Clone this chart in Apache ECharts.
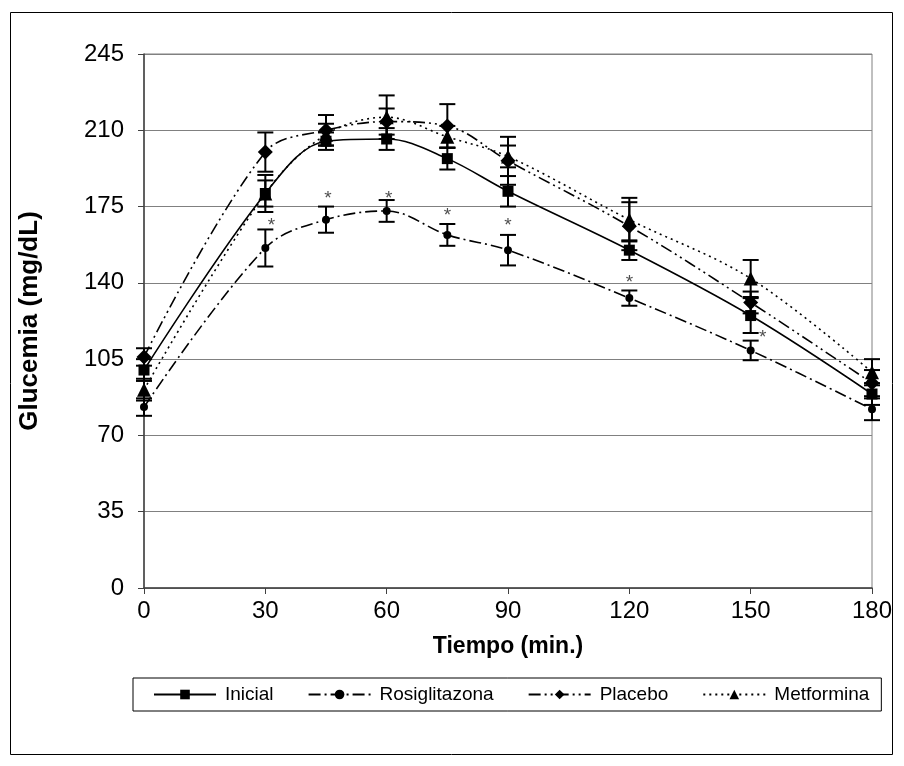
<!DOCTYPE html>
<html>
<head>
<meta charset="utf-8">
<script src="https://cdn.jsdelivr.net/npm/echarts@6/dist/echarts.min.js"></script>
<style>html,body{margin:0;padding:0;background:#fff;}#c{width:904px;height:766px;}</style>
</head>
<body>
<div id="c"></div>
<script>
var times = [0, 30, 45, 60, 75, 90, 120, 150, 180];
var yTicks = [0, 35, 70, 105, 140, 175, 210, 245];
var inicial = [100, 181, 205, 206, 197, 182, 155, 125, 89];
var inicialErr = [5, 8.5, 4, 5, 5, 7, 4.5, 8, 5];
var rosiglitazona = [83, 156, 169, 173, 162, 155, 133, 109, 82];
var rosiglitazonaErr = [4, 8.5, 6, 5, 5, 7, 3.5, 4.5, 5];
var placebo = [106, 200, 210, 214, 212, 196, 166, 131, 94];
var placeboErr = [4, 9, 7, 6, 10, 11, 11, 5, 6];
var metformina = [91, 181, 208, 216, 207, 198, 169, 142, 99];
var metforminaErr = [5, 6, 5, 10, 5, 5, 10, 8.5, 6];
var asteriskX = [31.5, 45.5, 60.5, 75, 90, 120, 153];
var asteriskY = [168, 180.5, 180.5, 172.5, 168, 142, 116.5];

var FONT = '"Liberation Sans", Arial, sans-serif';

function pts(vals) { return times.map(function (t, i) { return [t, vals[i]]; }); }
function errs(vals, e) { return times.map(function (t, i) { return [t, vals[i] - e[i], vals[i] + e[i]]; }); }

function errSeries(vals, e) {
  return {
    type: 'custom',
    data: errs(vals, e),
    encode: { x: 0, y: [1, 2] },
    z: 3,
    silent: true,
    renderItem: function (params, api) {
      var x = api.value(0);
      var p1 = api.coord([x, api.value(2)]);
      var p2 = api.coord([x, api.value(1)]);
      var w = 8;
      var st = { stroke: '#000', lineWidth: 2 };
      return {
        type: 'group',
        children: [
          { type: 'line', shape: { x1: p1[0], y1: p1[1], x2: p2[0], y2: p2[1] }, style: st },
          { type: 'line', shape: { x1: p1[0] - w, y1: p1[1], x2: p1[0] + w, y2: p1[1] }, style: st },
          { type: 'line', shape: { x1: p2[0] - w, y1: p2[1], x2: p2[0] + w, y2: p2[1] }, style: st }
        ]
      };
    }
  };
}

function lineSeries(name, vals, symbol, size, dash) {
  return {
    name: name,
    type: 'line',
    data: pts(vals),
    smooth: 0.35,
    symbol: symbol,
    symbolSize: size,
    z: 4,
    itemStyle: { color: '#000' },
    lineStyle: { color: '#000', width: 1.6, type: dash },
    emphasis: { disabled: true }
  };
}

var chart = echarts.init(document.getElementById('c'), null, { renderer: 'canvas' });
chart.setOption({
  animation: false,
  backgroundColor: '#fff',
  textStyle: { fontFamily: FONT },
  graphic: [{
    type: 'rect',
    shape: { x: 10.5, y: 12.5, width: 882, height: 742 },
    style: { fill: 'none', stroke: '#000', lineWidth: 1 },
    z: -1
  }],
  grid: { left: 144, right: 32, top: 54, bottom: 178, show: true, borderColor: '#808080', borderWidth: 1 },
  xAxis: {
    type: 'value', min: 0, max: 180, interval: 30,
    name: 'Tiempo (min.)', nameLocation: 'middle', nameGap: 47,
    nameTextStyle: { fontSize: 23, fontWeight: 'bold', color: '#000', fontFamily: FONT, verticalAlign: 'top' },
    axisLine: { show: true, lineStyle: { color: '#404040', width: 1.5 } },
    axisTick: { show: true, length: 6, lineStyle: { color: '#404040' } },
    axisLabel: { fontSize: 24, color: '#000', margin: 11, fontFamily: FONT },
    splitLine: { show: false }
  },
  yAxis: {
    type: 'value', min: yTicks[0], max: yTicks[yTicks.length - 1], interval: 35,
    name: 'Glucemia (mg/dL)', nameLocation: 'middle', nameGap: 101,
    nameTextStyle: { fontSize: 26, fontWeight: 'bold', color: '#000', fontFamily: FONT },
    axisLine: { show: true, lineStyle: { color: '#404040', width: 1.5 } },
    axisTick: { show: true, length: 6, lineStyle: { color: '#404040' } },
    axisLabel: { fontSize: 24, color: '#000', margin: 20, fontFamily: FONT },
    splitLine: { show: true, lineStyle: { color: '#808080', width: 1 } }
  },
  legend: {
    data: ['Inicial', 'Rosiglitazona', 'Placebo', 'Metformina'],
    left: 133, top: 678,
    padding: [7, 12, 7, 20],
    itemGap: 34,
    itemWidth: 62, itemHeight: 12,
    borderColor: '#000', borderWidth: 1,
    textStyle: { fontSize: 19, color: '#000', fontFamily: FONT, padding: [0, 0, 0, 4] },
    selectedMode: false
  },
  series: [
    errSeries(inicial, inicialErr),
    errSeries(rosiglitazona, rosiglitazonaErr),
    errSeries(placebo, placeboErr),
    errSeries(metformina, metforminaErr),
    lineSeries('Inicial', inicial, 'rect', 11, 'solid'),
    lineSeries('Rosiglitazona', rosiglitazona, 'circle', 8, [12, 4, 2, 4]),
    lineSeries('Placebo', placebo, 'diamond', 15, [12, 4, 2, 4, 2, 4]),
    lineSeries('Metformina', metformina, 'triangle', 14, [2, 4]),
    {
      type: 'scatter',
      data: asteriskX.map(function (x, i) { return [x, asteriskY[i]]; }),
      symbolSize: 1,
      itemStyle: { color: 'rgba(0,0,0,0)' },
      silent: true,
      z: 5,
      label: { show: true, formatter: '*', position: 'inside', offset: [0, 4], fontSize: 19, color: '#222', fontFamily: FONT }
    }
  ]
});
</script>
</body>
</html>
